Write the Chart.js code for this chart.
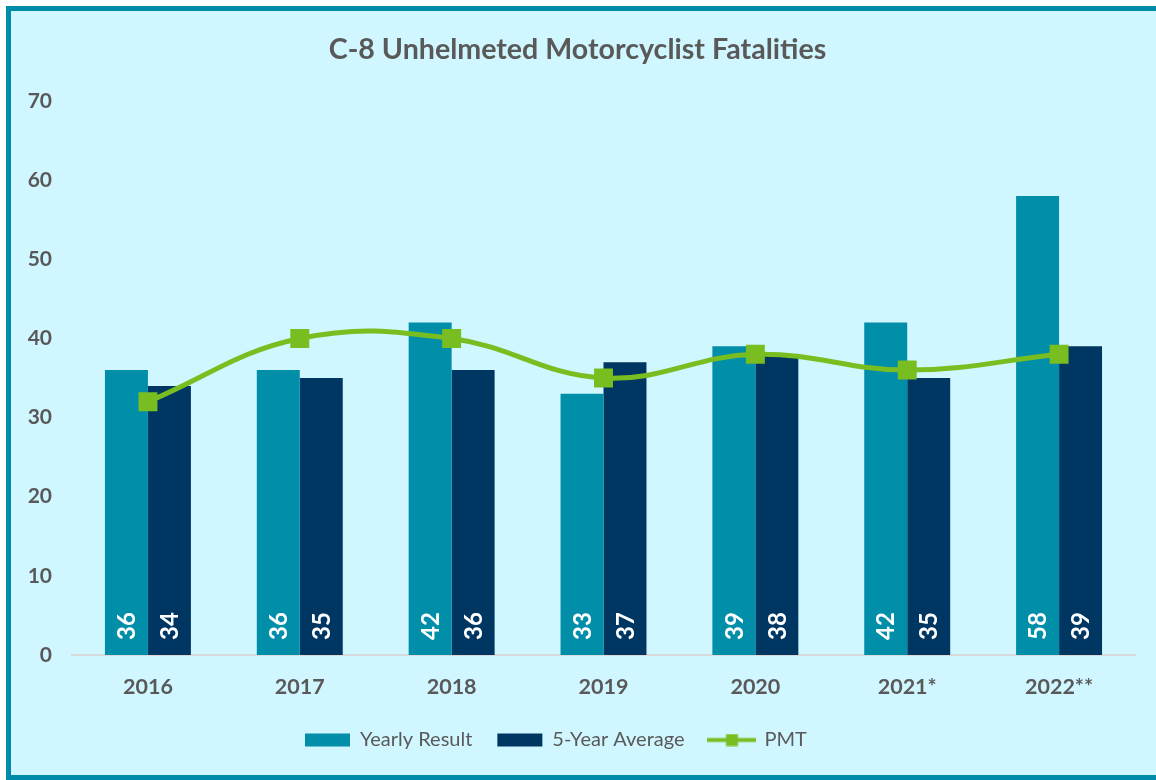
<!DOCTYPE html>
<html>
<head>
<meta charset="utf-8">
<script src="https://cdn.jsdelivr.net/npm/chart.js@4.4.1/dist/chart.umd.min.js"></script>
<style>
  html, body { margin: 0; padding: 0; background: #ffffff; width: 1156px; height: 780px; overflow: hidden; }
  #frame { position: absolute; left: 6px; top: 6px; width: 1200px; height: 764px; border: 5px solid #008BA8; background: #D0F6FF; }
  #c { position: absolute; left: 0; top: 0; }
</style>
</head>
<body>
<div id="frame"></div>
<canvas id="c" width="1156" height="780"></canvas>
<script>
const categories = ['2016', '2017', '2018', '2019', '2020', '2021*', '2022**'];
const yearlyResult = [36, 36, 42, 33, 39, 42, 58];
const fiveYearAverage = [34, 35, 36, 37, 38, 35, 39];
const pmt = [32, 40, 40, 35, 38, 36, 38];
const yTicks = [0, 10, 20, 30, 40, 50, 60, 70];

const TEAL = '#008EA9';
const NAVY = '#003762';
const GREEN = '#79BE20';
const GREY = '#595959';
const FONT = 'Lato, "Open Sans", sans-serif';

// legend icon for PMT: line with square marker
const pmtIcon = document.createElement('canvas');
pmtIcon.width = 49; pmtIcon.height = 13;
(function () {
  const g = pmtIcon.getContext('2d');
  g.fillStyle = GREEN;
  g.fillRect(0, 4.5, 49, 4);
  g.fillRect(18.5, 0.5, 12, 12);
})();

const barLabels = {
  id: 'barLabels',
  afterDatasetsDraw(chart) {
    const ctx = chart.ctx;
    chart.data.datasets.forEach((ds, di) => {
      if (ds.type !== 'bar') return;
      const meta = chart.getDatasetMeta(di);
      meta.data.forEach((el, i) => {
        ctx.save();
        ctx.translate(el.x, el.base - 15);
        ctx.rotate(-Math.PI / 2);
        ctx.fillStyle = '#ffffff';
        ctx.font = 'bold 24px ' + FONT;
        ctx.textAlign = 'left';
        ctx.textBaseline = 'middle';
        ctx.fillText(String(ds.data[i]), 0, 1);
        ctx.restore();
      });
    });
  }
};

const legendShift = {
  id: 'legendShift',
  afterLayout(chart) {
    const lg = chart.legend;
    if (!lg) return;
    const pad = lg.options.labels.padding;
    const w = lg.right - lg.left;
    lg.left = 305 - pad;
    lg.right = lg.left + w;
  }
};

new Chart(document.getElementById('c'), {
  data: {
    labels: categories,
    datasets: [
      { type: 'bar', label: 'Yearly Result', data: yearlyResult, backgroundColor: TEAL, borderWidth: 0, order: 2,
        barPercentage: 1, categoryPercentage: 0.566 },
      { type: 'bar', label: '5-Year Average', data: fiveYearAverage, backgroundColor: NAVY, borderWidth: 0, order: 3,
        barPercentage: 1, categoryPercentage: 0.566 },
      { type: 'line', label: 'PMT', data: pmt, borderColor: GREEN, backgroundColor: GREEN, borderWidth: 5,
        tension: 0.4, pointStyle: 'rect', pointRadius: 13.4, pointBorderWidth: 0, pointBackgroundColor: GREEN,
        fill: false, order: 1 }
    ]
  },
  options: {
    responsive: false,
    animation: false,
    devicePixelRatio: 1,
    layout: { padding: { top: 30, left: 20, right: 21, bottom: 20 } },
    plugins: {
      title: {
        display: true,
        text: 'C-8 Unhelmeted Motorcyclist Fatalities',
        color: GREY,
        font: { family: FONT, size: 28.6, weight: 'bold' },
        padding: { top: 2.8, bottom: 33.9 }
      },
      legend: {
        display: true,
        position: 'bottom',
        align: 'start',
        labels: {
          color: GREY,
          font: { family: FONT, size: 20 },
          usePointStyle: true,
          pointStyleWidth: 45,
          boxHeight: 13,
          padding: 25,
          sort: (a, b) => a.datasetIndex - b.datasetIndex,
          generateLabels(chart) {
            const items = Chart.defaults.plugins.legend.labels.generateLabels(chart);
            items.forEach(it => {
              const ds = chart.data.datasets[it.datasetIndex];
              if (ds.type === 'line') {
                it.pointStyle = pmtIcon;
              } else {
                it.pointStyle = 'rect';
                it.lineWidth = 0;
                it.fillStyle = ds.backgroundColor;
              }
            });
            return items;
          }
        }
      },
      tooltip: { enabled: false }
    },
    scales: {
      x: {
        grid: { display: false, drawTicks: false },
        border: { display: true, color: '#D9D9D9', width: 2 },
        ticks: { color: GREY, font: { family: FONT, size: 21.5, weight: 'bold' }, padding: 19, maxRotation: 0 },
        afterFit(scale) { scale.height = 50; }
      },
      y: {
        min: 0,
        max: 70,
        grid: { display: false, drawTicks: false },
        border: { display: false },
        afterBuildTicks(scale) { scale.ticks = yTicks.map(v => ({ value: v })); },
        ticks: { color: GREY, font: { family: FONT, size: 21, weight: 'bold' }, padding: 20 },
        afterFit(scale) { scale.width = 52; }
      }
    }
  },
  plugins: [barLabels, legendShift]
});
</script>
</body>
</html>
